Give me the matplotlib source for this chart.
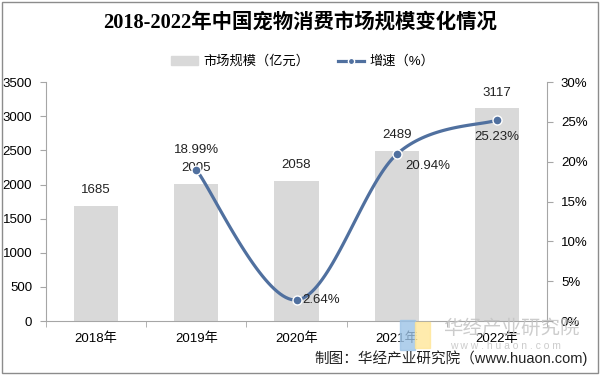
import numpy as np
import matplotlib
matplotlib.use("Agg")
import matplotlib.pyplot as plt
from matplotlib.patches import Rectangle
from matplotlib.lines import Line2D

plt.rcParams['font.family'] = ['Liberation Sans', 'Noto Sans CJK SC', 'DejaVu Sans']

years = ['2018年', '2019年', '2020年', '2021年', '2022年']
market_size = [1685, 2005, 2058, 2489, 3117]
growth_years = [1, 2, 3, 4]
growth = [18.99, 2.64, 20.94, 25.23]

bar_color = '#d9d9d9'
line_color = '#50709f'
axis_color = '#a6a6a6'


def smooth_line(xs, ys, n=40):
    # catmull-rom through the points, like excel's smoothed line
    px = [xs[0]] + list(xs) + [xs[-1]]
    py = [ys[0]] + list(ys) + [ys[-1]]
    outx, outy = [], []
    t = np.linspace(0, 1, n)
    for i in range(1, len(px) - 2):
        for p, out in ((px, outx), (py, outy)):
            p0, p1, p2, p3 = p[i - 1], p[i], p[i + 1], p[i + 2]
            out.extend(0.5 * ((2 * p1) + (-p0 + p2) * t
                              + (2 * p0 - 5 * p1 + 4 * p2 - p3) * t ** 2
                              + (-p0 + 3 * p1 - 3 * p2 + p3) * t ** 3))
    return np.array(outx), np.array(outy)


fig = plt.figure(figsize=(6, 3.75), dpi=100)
ax = fig.add_axes([0.0767, 0.144, 0.835, 0.637])
x = np.arange(len(years))

ax.bar(x, market_size, width=0.44, color=bar_color, zorder=1)
for xi, v in zip(x, market_size):
    ax.annotate(str(v), (xi, v), xytext=(0, 7), textcoords='offset points',
                ha='center', va='bottom', fontsize=9.5, color='#222222')

ax.set_xlim(-0.5, 4.5)
ax.set_ylim(0, 3500)
ax.set_yticks(range(0, 3501, 500))
ax.set_xticks(x)
ax.set_xticklabels(years)
ax.set_xticks(np.arange(-0.5, 4.6, 1), minor=True)
ax.tick_params(axis='x', which='major', length=0, pad=8, labelsize=9.5)
ax.tick_params(axis='x', which='minor', length=4, color=axis_color)
ax.tick_params(axis='y', length=4, color=axis_color, labelsize=9.5, pad=6)
ax.spines['top'].set_visible(False)
ax.spines['right'].set_visible(False)
for s in ('left', 'bottom'):
    ax.spines[s].set_color(axis_color)

ax2 = ax.twinx()
ax2.set_ylim(0, 30)
ax2.set_yticks(range(0, 31, 5))
ax2.set_yticklabels([f'{v}%' for v in range(0, 31, 5)])
ax2.tick_params(axis='y', length=4, color=axis_color, labelsize=9.5, pad=6)
for s in ('top', 'left', 'bottom'):
    ax2.spines[s].set_visible(False)
ax2.spines['right'].set_color(axis_color)

sx, sy = smooth_line(growth_years, growth)
ax2.plot(sx, sy, color=line_color, lw=2.3, zorder=3, solid_capstyle='round')
ax2.plot(growth_years, growth, 'o', color=line_color, ms=6.5, mec='white', mew=1.0, zorder=4)

label_pos = [((0, 10), 'center', 'bottom'),
             ((4, 0), 'left', 'center'),
             ((6, -4), 'left', 'top'),
             ((0, -8), 'center', 'top')]
for gx, gv, (off, ha, va) in zip(growth_years, growth, label_pos):
    ax2.annotate(f'{gv:.2f}%', (gx, gv), xytext=off, textcoords='offset points',
                 ha=ha, va=va, fontsize=9.5, color='#222222', zorder=5)

handles = [Rectangle((0, 0), 1, 1, color=bar_color),
           Line2D([0], [0], color=line_color, lw=2.3, marker='o', ms=4.5, mec='white')]
fig.legend(handles, ['市场规模（亿元）', '增速（%）'], loc='center', bbox_to_anchor=(0.505, 0.835),
           ncol=2, frameon=False, fontsize=9.5, handlelength=2.0, columnspacing=2.2,
           handletextpad=0.4)

fig.text(0.5, 0.94, '2018-2022年中国宠物消费市场规模变化情况', ha='center', va='center',
         fontsize=14.7, fontweight='bold', family=['Liberation Serif', 'Noto Sans CJK SC'])

# watermark
fig.patches.append(Rectangle((0.667, 0.067), 0.025, 0.08, transform=fig.transFigure,
                             color='#9dc3e6', alpha=0.8, zorder=0))
fig.patches.append(Rectangle((0.692, 0.072), 0.025, 0.07, transform=fig.transFigure,
                             color='#ffe699', alpha=0.8, zorder=0))
fig.text(0.738, 0.125, '华经产业研究院', fontsize=14, color='#c4c4c4', alpha=0.85,
         ha='left', va='center', family=['Noto Sans CJK SC'])
fig.text(0.75, 0.077, 'w w w . h u a o n . c o m', fontsize=7.5, color='#cccccc',
         ha='left', va='center')
fig.text(0.98, 0.045, '制图：华经产业研究院（www.huaon.com)', fontsize=10.5, color='#222222',
         ha='right', va='center')

fig.patches.append(Rectangle((0.003, 0.005), 0.994, 0.99, transform=fig.transFigure,
                             fill=False, edgecolor='#8c8c8c', lw=1.0))

fig.savefig('out.png', dpi=100)
